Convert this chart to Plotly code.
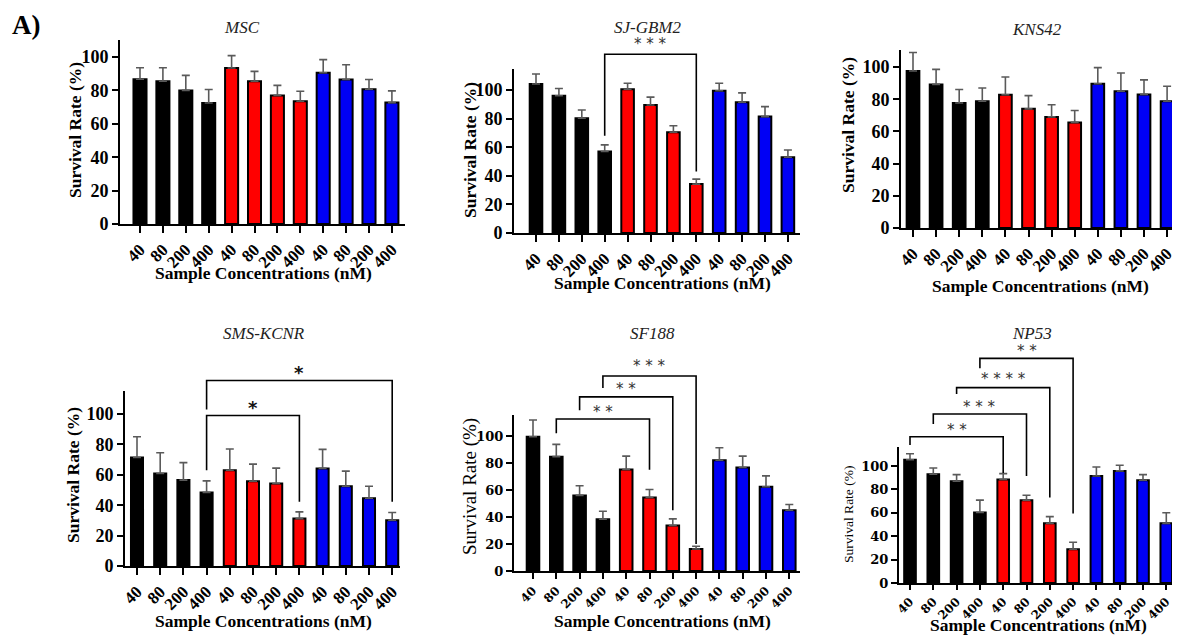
import plotly.graph_objects as go

OFF = 8  # page body margin in the browser
W, H = 1180 - OFF, 637 - OFF

# ---------------- data ----------------
conc_labels = ["40", "80", "200", "400"] * 3
group_colors = ["#000000", "#ff0000", "#0000f5"]

panel_names = ["MSC", "SJ-GBM2", "KNS42", "SMS-KCNR", "SF188", "NP53"]

msc_mean = [86.7, 85.5, 80.0, 72.5, 93.4, 85.5, 77.0, 73.5, 90.6, 86.5, 80.7, 72.7]
msc_sd = [6.9, 8.1, 9.0, 8.0, 7.4, 5.9, 6.0, 6.0, 7.8, 8.9, 5.8, 7.0]

sjgbm2_mean = [104.2, 96.0, 80.2, 57.0, 100.5, 89.5, 70.5, 34.2, 99.5, 91.4, 81.4, 53.0]
sjgbm2_sd = [7.0, 5.0, 5.8, 4.6, 4.2, 5.5, 4.5, 3.5, 5.2, 6.6, 7.0, 5.0]

kns42_mean = [97.5, 89.2, 77.6, 78.7, 82.8, 74.0, 69.0, 65.6, 89.6, 85.0, 83.0, 78.7]
kns42_sd = [11.5, 9.3, 8.4, 8.3, 11.0, 8.2, 7.6, 7.4, 10.0, 11.3, 9.0, 9.3]

smskcnr_mean = [71.4, 60.9, 56.5, 48.4, 63.0, 55.8, 54.3, 31.2, 64.2, 52.5, 44.6, 30.1]
smskcnr_sd = [13.6, 13.6, 11.5, 7.6, 14.0, 11.2, 10.1, 4.4, 12.5, 9.9, 7.9, 5.1]

sf188_mean = [99.5, 84.7, 56.0, 38.4, 75.2, 54.5, 33.7, 16.3, 82.0, 76.7, 62.4, 45.0]
sf188_sd = [12.4, 9.1, 7.1, 5.9, 9.9, 5.9, 4.9, 2.0, 9.3, 8.4, 8.1, 4.3]

np53_mean = [105.4, 93.0, 87.0, 60.3, 88.4, 70.8, 51.0, 28.9, 91.5, 95.8, 87.8, 51.0]
np53_sd = [5.1, 5.3, 5.6, 10.5, 5.1, 4.2, 5.7, 5.9, 7.7, 4.8, 4.8, 9.0]

# significance brackets: (from bar, to bar, bracket height, left leg end, right leg end, label, label height)
sjgbm2_sig = [(3, 7, 125, 68, 43, "* * *", 133)]
smskcnr_sig = [(3, 7, 99, 63, 42.3, "*", 106), (3, 11, 122, 103, 42.3, "*", 129)]
sf188_sig = [(1, 5, 112.6, 102, 75, "* *", 119), (2, 6, 129, 119, 45, "* *", 136),
             (3, 7, 144.4, 135.5, 20, "* * *", 152.6)]
np53_sig = [(0, 4, 125, 118, 94, "* *", 131.7), (1, 5, 144.5, 136, 91.5, "* * *", 151.6),
            (2, 6, 167, 161.5, 73, "* * * *", 175.6), (3, 7, 192, 183.6, 59.5, "* *", 199.7)]

means = [msc_mean, sjgbm2_mean, kns42_mean, smskcnr_mean, sf188_mean, np53_mean]
sds = [msc_sd, sjgbm2_sd, kns42_sd, smskcnr_sd, sf188_sd, np53_sd]
sigs = [[], sjgbm2_sig, [], smskcnr_sig, sf188_sig, np53_sig]

# ---------------- layout geometry (screen pixels) ----------------
geom = [
    dict(ax=120, fb=140, sp=22.9, xr=405, y0=224, ppu=1.67, ytop=110, bw=0.57, tl=7),
    dict(ax=514, fb=536, sp=22.9, xr=800, y0=233, ppu=1.43, ytop=115, bw=0.55, tl=7),
    dict(ax=901, fb=913, sp=23.1, xr=1179, y0=228, ppu=1.61, ytop=110.5, bw=0.55, tl=7),
    dict(ax=125, fb=137, sp=23.2, xr=400, y0=566, ppu=1.52, ytop=115, bw=0.52, tl=7),
    dict(ax=514, fb=533, sp=23.3, xr=800, y0=571, ppu=1.35, ytop=115.5, bw=0.54, tl=6),
    dict(ax=899, fb=910, sp=23.3, xr=1179, y0=583, ppu=1.17, ytop=116, bw=0.5, tl=5),
]
titles_pos = [(242, 28), (648, 28), (1037, 30), (264, 333), (652, 333), (1032, 333)]
xtitle_pos = [(263, 273), (662, 283), (1040, 286), (263, 621), (662, 621), (1038, 625)]
ytitle_pos = [(75, 130), (470, 150), (848, 125), (73, 475), (470, 487), (848, 515)]

serif = "Liberation Serif"
ytick_fonts = [dict(family=serif, size=18, color="black", weight="bold")] * 4 + \
              [dict(family="DejaVu Serif", size=13, color="black", weight="bold")] * 2
xtick_fonts = [dict(family=serif, size=17, color="black", weight="bold")] * 4 + \
              [dict(family="DejaVu Serif", size=12, color="black", weight="bold")] * 2
ytitle_fonts = [dict(family=serif, size=17.5, color="black", weight="bold")] * 4 + \
               [dict(family=serif, size=19, color="black"), dict(family=serif, size=13.5, color="black")]

fig = go.Figure()
layout = dict(width=W, height=H, margin=dict(l=0, r=0, t=0, b=0), template="none",
              showlegend=False, plot_bgcolor="rgba(0,0,0,0)", paper_bgcolor="white", hovermode=False)
annotations = []


def px2x(p):
    return (p - OFF) / W


def px2y(p):
    return 1 - (p - OFF) / H


extra_axis = 7
for k in range(6):
    g = geom[k]
    n = k + 1
    xs = list(range(len(conc_labels)))
    xmin = -(g["fb"] - g["ax"]) / g["sp"]
    xmax = (g["xr"] - g["fb"]) / g["sp"]
    xdom = [px2x(g["ax"]), min(1.0, px2x(g["xr"]))]
    ydom = [px2y(g["y0"]), px2y(g["y0"] - g["ytop"] * g["ppu"])]
    colors = [group_colors[i // 4] for i in xs]
    fig.add_trace(go.Bar(
        x=xs, y=means[k], width=g["bw"], xaxis=f"x{n}", yaxis=f"y{n}",
        marker=dict(color=colors, line=dict(color="black", width=2)),
        error_y=dict(type="data", array=sds[k], arrayminus=[0] * len(xs), symmetric=False,
                     color="#5a5a5a", thickness=1.6, width=4),
    ))
    layout[f"xaxis{n}"] = dict(
        domain=xdom, range=[xmin, xmax], anchor=f"y{n}", showgrid=False, zeroline=False,
        showline=True, linecolor="black", linewidth=2, ticks="outside", ticklen=g["tl"], tickwidth=2,
        tickcolor="black", tickvals=xs, ticktext=conc_labels, tickangle=-45,
        tickfont=xtick_fonts[k], automargin=False, fixedrange=True)
    layout[f"yaxis{n}"] = dict(
        domain=ydom, range=[0, g["ytop"]], anchor=f"x{n}", showgrid=False, zeroline=False,
        showline=True, linecolor="black", linewidth=2, ticks="outside", ticklen=6, tickwidth=2,
        tickcolor="black", tickvals=[0, 20, 40, 60, 80, 100], tickfont=ytick_fonts[k],
        automargin=False, fixedrange=True)

    # significance brackets on an invisible axis sharing the same scale
    if sigs[k]:
        btop = max(max(s[2], s[6]) for s in sigs[k]) + 10
        m = extra_axis
        extra_axis += 1
        layout[f"yaxis{m}"] = dict(
            domain=[px2y(g["y0"]), min(1.0, px2y(g["y0"] - btop * g["ppu"]))],
            range=[0, btop], anchor=f"x{n}", visible=False, fixedrange=True)
        for (a, b, top, lb, rb, lab, ly) in sigs[k]:
            fig.add_trace(go.Scatter(
                x=[a, a, b, b], y=[lb, top, top, rb], mode="lines", xaxis=f"x{n}", yaxis=f"y{m}",
                line=dict(color="black", width=1.6), hoverinfo="skip"))
            big = (k == 3)
            annotations.append(dict(
                x=(a + b) / 2, y=ly - (2.5 if big else 1.5) / g["ppu"], xref=f"x{n}", yref=f"y{m}",
                text=lab, showarrow=False, yanchor="middle", xanchor="center",
                font=dict(family="DejaVu Sans", size=15 if not big else 18,
                          color="#333333" if not big else "#111111",
                          weight="normal" if not big else "bold")))

    tx, ty = titles_pos[k]
    annotations.append(dict(x=px2x(tx), y=px2y(ty), xref="paper", yref="paper", text=panel_names[k],
                            showarrow=False, xanchor="center", yanchor="middle",
                            font=dict(family=serif, size=17, color="#222222", style="italic")))
    xx, xy = xtitle_pos[k]
    annotations.append(dict(x=px2x(xx), y=px2y(xy), xref="paper", yref="paper",
                            text="Sample Concentrations (nM)", showarrow=False,
                            xanchor="center", yanchor="middle",
                            font=dict(family=serif, size=17.5, color="black", weight="bold")))
    yx, yy = ytitle_pos[k]
    annotations.append(dict(x=px2x(yx), y=px2y(yy), xref="paper", yref="paper",
                            text="Survival Rate (%)", showarrow=False, textangle=-90,
                            xanchor="center", yanchor="middle", font=ytitle_fonts[k]))

annotations.append(dict(x=px2x(27), y=1.0, xref="paper", yref="paper", text="A)",
                        showarrow=False, xanchor="center", yanchor="top",
                        font=dict(family=serif, size=27, color="black", weight="bold")))
layout["annotations"] = annotations
fig.update_layout(**layout)
fig.write_html("out.html")
